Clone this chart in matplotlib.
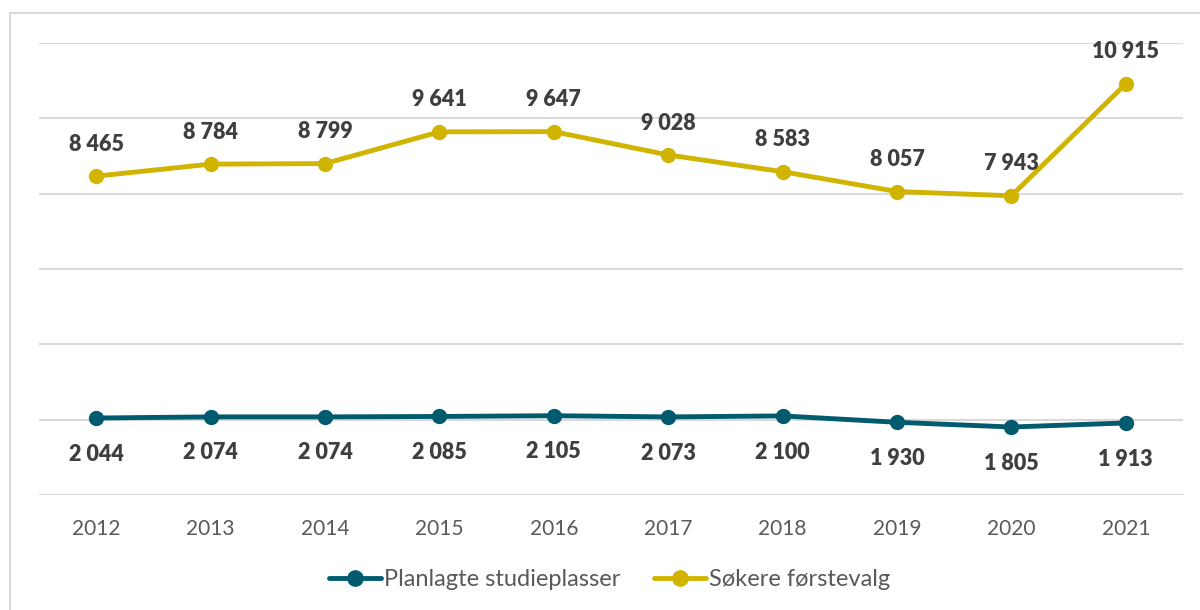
import matplotlib.pyplot as plt
from matplotlib.patches import Rectangle

plt.rcParams['font.family'] = ['Lato', 'DejaVu Sans']

years = ['2012', '2013', '2014', '2015', '2016', '2017', '2018', '2019', '2020', '2021']
studieplasser = [2044, 2074, 2074, 2085, 2105, 2073, 2100, 1930, 1805, 1913]
forstevalg = [8465, 8784, 8799, 9641, 9647, 9028, 8583, 8057, 7943, 10915]

teal = '#005b6e'
gold = '#d1b400'

def fmt(v):
    return f'{v:,}'.replace(',', ' ')

fig = plt.figure(figsize=(12, 6.1), dpi=100)
ax = fig.add_axes([39 / 1200, 1 - 495 / 610, 1144 / 1200, 452 / 610])

# chart frame
fig.patches.append(Rectangle((10 / 1200, -0.05), 1.2, (610 - 13) / 610 + 0.05,
                             transform=fig.transFigure, fill=False,
                             edgecolor='#d9d9d9', lw=1.5))

x = range(len(years))
ax.plot(x, studieplasser, color=teal, lw=3.5, marker='o', ms=10,
        label='Planlagte studieplasser', solid_capstyle='round')
ax.plot(x, forstevalg, color=gold, lw=3.5, marker='o', ms=10,
        label='Søkere førstevalg', solid_capstyle='round')

for i, v in enumerate(studieplasser):
    ax.annotate(fmt(v), (i, v), xytext=(0, -26), textcoords='offset points',
                ha='center', va='center', fontsize=15.5, fontweight='heavy',
                color='#3f3f3f')
for i, v in enumerate(forstevalg):
    ax.annotate(fmt(v), (i, v), xytext=(0, 23), textcoords='offset points',
                ha='center', va='center', fontsize=15.5, fontweight='heavy',
                color='#3f3f3f')

ax.set_xlim(-0.5, 9.5)
ax.set_ylim(0, 12000)
ax.set_yticks(range(0, 12001, 2000))
ax.set_yticklabels([])
ax.set_xticks(list(x))
ax.set_xticklabels(years)
ax.tick_params(axis='x', length=0, pad=17, labelsize=15, labelcolor='#595959')
ax.tick_params(axis='y', length=0)
ax.grid(axis='y', color='#d9d9d9', lw=1.5)
ax.set_axisbelow(True)
for s in ax.spines.values():
    s.set_visible(False)

fig.legend(loc='center', bbox_to_anchor=(0.508, 1 - 580 / 610), ncol=2,
           frameon=False, fontsize=17, labelcolor='#595959', markerscale=1.1,
           handlelength=2.2, handletextpad=0.15, columnspacing=1.4)

fig.savefig('out.png', dpi=100)
